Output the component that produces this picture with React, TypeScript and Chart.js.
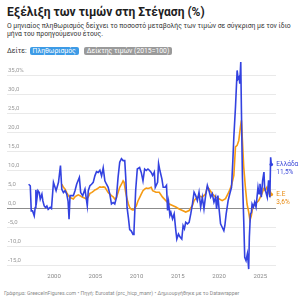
import React, { useEffect, useRef } from "react";
import { Chart, registerables } from "chart.js";
Chart.register(...registerables);

// Greece – monthly housing inflation (%)
const grYears = [
  1996.92, 1997.12, 1997.24, 1997.4, 1997.6, 1997.72, 1997.8, 1997.92, 1998.05, 1998.21, 1998.33, 1998.53,
  1998.65, 1998.81, 1998.97, 1999.13, 1999.29, 1999.53, 1999.69, 1999.93, 2000.25, 2000.54, 2000.78, 2000.94,
  2001.14, 2001.34, 2001.54, 2001.7, 2001.82, 2001.94, 2002.34, 2002.54, 2002.74, 2003.07, 2003.23, 2003.47,
  2003.75, 2004.03, 2004.15, 2004.35, 2004.55, 2004.75, 2004.95, 2005.15, 2005.35, 2005.56, 2005.76, 2005.96,
  2006.16, 2006.36, 2006.56, 2006.76, 2006.96, 2007.16, 2007.36, 2007.56, 2007.76, 2007.96, 2008.17, 2008.37,
  2008.57, 2008.69, 2008.85, 2009.01, 2009.17, 2009.37, 2009.57, 2009.69, 2009.89, 2010.09, 2010.37, 2010.57,
  2010.78, 2010.98, 2011.18, 2011.38, 2011.58, 2011.78, 2011.95, 2012.15, 2012.27, 2012.55, 2012.67, 2012.83,
  2013.07, 2013.23, 2013.47, 2013.63, 2013.76, 2013.88, 2014.04, 2014.16, 2014.36, 2014.56, 2014.76, 2014.88,
  2015.08, 2015.28, 2015.48, 2015.64, 2015.8, 2015.96, 2016.17, 2016.37, 2016.57, 2016.77, 2016.97, 2017.17,
  2017.37, 2017.57, 2017.77, 2017.97, 2018.17, 2018.37, 2018.58, 2018.78, 2018.98, 2019.18, 2019.38, 2019.58,
  2019.7, 2019.86, 2019.98, 2020.18, 2020.38, 2020.58, 2020.7, 2020.86, 2021.1, 2021.3, 2021.51, 2021.67,
  2021.79, 2021.99, 2022.19, 2022.31, 2022.43, 2022.51, 2022.63, 2022.71, 2022.83, 2022.99, 2023.11, 2023.27,
  2023.43, 2023.51, 2023.59, 2023.67, 2023.8, 2023.92, 2024.0, 2024.16, 2024.32, 2024.48, 2024.6, 2024.72,
  2024.84, 2024.96, 2025.12, 2025.28, 2025.44, 2025.52, 2025.68, 2025.84, 2026.0, 2026.16, 2026.25, 2026.33,
];
const grValues = [
  6.3, 5.9, -0.7, -0.7, -2.0, 0.2, 4.8, 2.4, 4.6, 4.1, 2.4, 3.7,
  1.9, 0.6, 0.2, 0.6, -0.3, 0.2, -0.1, 6.8, 4.6, 6.8, 11.2, 5.0,
  4.1, 4.6, 3.7, 1.9, -2.9, 3.3, 3.3, 4.6, 6.3, 8.1, 4.1, 3.3,
  5.0, 0.6, 4.6, 5.9, 6.3, 6.8, 8.5, 9.6, 9.4, 10.0, 8.5, 10.6,
  7.2, 6.3, 5.5, 3.7, 1.1, 1.5, 1.1, 2.8, 8.1, 12.1, 13.0, 12.5,
  12.5, 8.1, 0.2, -2.5, -5.6, -6.0, -6.9, -6.0, 4.6, 10.3, 10.7, 9.4,
  7.2, 10.3, 9.9, 10.3, 9.9, 9.4, 8.6, 9.5, 5.5, 6.8, 11.7, 9.9,
  7.7, 5.5, 5.5, 6.0, -0.6, 1.6, -1.9, -1.1, -2.8, -1.5, -5.9, -8.1,
  -6.8, -7.6, -8.1, -4.6, -5.4, -3.7, -4.1, -3.7, -1.5, 1.1, 4.2, 3.3,
  2.0, 4.2, 0.3, 2.9, -0.2, 3.3, 6.0, 4.6, 2.9, 3.8, 1.6, 2.9,
  -0.2, 3.3, 0.3, -4.1, -5.0, -5.9, -4.6, -1.5, 2.0, 3.8, 5.5, 12.5,
  18.7, 26.6, 36.2, 34.0, 34.5, 32.7, 38.4, 25.7, 8.2, -3.2, -12.9, -13.8,
  -12.0, -13.8, -16.0, -7.6, -1.5, -1.1, 1.1, 0.3, 1.6, 0.3, 2.9, 5.5,
  3.8, 6.4, 2.9, 7.3, 9.5, 5.5, 4.2, 2.9, 7.3, 2.9, 13.4, 11.5,
];

// EU – monthly housing inflation (%)
const euYears = [
  2000.94, 2001.14, 2001.34, 2001.54, 2001.74, 2001.94, 2002.14, 2002.34, 2002.54, 2002.74, 2002.94, 2003.15,
  2003.35, 2003.55, 2003.75, 2003.95, 2004.15, 2004.35, 2004.55, 2004.75, 2004.95, 2005.15, 2005.35, 2005.56,
  2005.76, 2005.96, 2006.16, 2006.36, 2006.56, 2006.76, 2006.96, 2007.16, 2007.36, 2007.56, 2007.76, 2007.96,
  2008.17, 2008.37, 2008.49, 2008.69, 2008.85, 2009.01, 2009.17, 2009.37, 2009.57, 2009.77, 2009.97, 2010.17,
  2010.37, 2010.57, 2010.78, 2010.98, 2011.18, 2011.38, 2011.58, 2011.78, 2011.95, 2012.35, 2012.75, 2013.15,
  2013.55, 2013.96, 2014.36, 2014.76, 2015.16, 2015.56, 2015.96, 2016.37, 2016.77, 2016.97, 2017.17, 2017.57,
  2017.97, 2018.37, 2018.58, 2018.78, 2019.18, 2019.58, 2019.98, 2020.38, 2020.78, 2021.18, 2021.51, 2021.79,
  2021.99, 2022.19, 2022.39, 2022.59, 2022.71, 2022.83, 2022.99, 2023.19, 2023.39, 2023.59, 2023.75, 2023.92,
  2024.08, 2024.4, 2024.8, 2025.0, 2025.2, 2025.4, 2025.6, 2025.8, 2026.0, 2026.16, 2026.24, 2026.33,
];
const euValues = [
  6.3, 5.5, 5.0, 4.1, 3.3, 2.8, 2.6, 2.4, 3.0, 3.3, 3.5, 3.3,
  3.0, 2.8, 2.6, 2.4, 3.0, 3.9, 4.1, 4.4, 4.8, 5.0, 5.3, 5.6,
  5.5, 5.6, 5.5, 4.8, 4.1, 3.7, 3.3, 3.0, 2.4, 2.8, 4.1, 5.5,
  6.3, 7.2, 6.8, 4.1, 2.4, 1.1, 0.2, -0.3, -0.5, 0.0, 0.6, 1.9,
  2.8, 3.7, 4.6, 5.0, 5.3, 5.2, 5.3, 5.5, 4.6, 4.2, 4.2, 2.9,
  2.0, 1.1, 0.7, 0.3, -0.2, -0.6, -1.0, -0.6, 0.7, 2.0, 2.5, 3.3,
  2.9, 3.8, 5.5, 5.1, 3.8, 2.9, 2.5, 2.0, 2.5, 4.2, 6.0, 8.6,
  16.1, 16.5, 17.8, 21.3, 23.1, 17.8, 10.8, 5.5, 1.1, -1.0, -3.2, -1.9,
  0.3, 1.1, 2.0, 2.9, 3.8, 5.1, 4.6, 5.5, 4.2, 3.3, 4.2, 3.6,
];

const seriesNames = ["Ελλάδα", "Ε.Ε"];
const lineColors = ["#3342e0", "#f59a12"];
const labelColors = ["#3d4ad8", "#e88a10"];
const xTickYears = [2000, 2005, 2010, 2015, 2020, 2025];
const yTickValues = [-15, -10, -5, 0, 5, 10, 15, 20, 25, 30, 35];

const fmt = (v: number) => v.toFixed(1).replace(".", ",");

export default function App() {
  const ref = useRef<HTMLCanvasElement | null>(null);

  useEffect(() => {
    if (!ref.current) return;
    const endLabels = {
      id: "endLabels",
      afterDatasetsDraw(chart: any) {
        const ctx = chart.ctx;
        chart.data.datasets.forEach((ds: any, i: number) => {
          const meta = chart.getDatasetMeta(i);
          const pt = meta.data[meta.data.length - 1];
          const v = ds.data[ds.data.length - 1].y;
          ctx.save();
          ctx.font = "6.5px Roboto";
          ctx.fillStyle = labelColors[i];
          ctx.textAlign = "left";
          ctx.textBaseline = "middle";
          ctx.fillText(seriesNames[i], pt.x + 5, pt.y);
          ctx.fillText(fmt(v) + "%", pt.x + 5, pt.y + 7.5);
          ctx.restore();
        });
      },
    };

    const mk = (xs: number[], ys: number[]) => xs.map((x, i) => ({ x, y: ys[i] }));
    const lastDot = (n: number) => (c: any) => (c.dataIndex === n - 1 ? 1.8 : 0);

    const chart = new Chart(ref.current, {
      type: "line",
      data: {
        datasets: [
          {
            label: seriesNames[0],
            data: mk(grYears, grValues),
            borderColor: lineColors[0],
            backgroundColor: lineColors[0],
            borderWidth: 1.6,
            pointRadius: lastDot(grYears.length),
            pointBorderWidth: 0,
            tension: 0,
            clip: false,
            order: 0,
          },
          {
            label: seriesNames[1],
            data: mk(euYears, euValues),
            borderColor: lineColors[1],
            backgroundColor: lineColors[1],
            borderWidth: 1.6,
            pointRadius: lastDot(euYears.length),
            pointBorderWidth: 0,
            tension: 0,
            clip: false,
            order: 1,
          },
        ],
      },
      options: {
        animation: false,
        responsive: false,
        devicePixelRatio: 1,
        layout: { padding: { left: 5, right: 24, top: 13, bottom: 1.5 } },
        plugins: { legend: { display: false }, tooltip: { enabled: false } },
        scales: {
          x: {
            type: "linear",
            min: 1994.3,
            max: 2026.9,
            grid: { display: false, drawTicks: false },
            border: { display: false },
            afterBuildTicks: (scale: any) => {
              scale.ticks = xTickYears.map((v) => ({ value: v }));
            },
            ticks: {
              font: { family: "Roboto", size: 6 },
              color: "#8a8a8a",
              padding: 8,
              maxRotation: 0,
              autoSkip: false,
              callback: (v: any) => String(v),
            },
          },
          y: {
            min: -15,
            max: 35,
            afterBuildTicks: (scale: any) => {
              scale.ticks = yTickValues.map((v) => ({ value: v }));
            },
            grid: {
              drawTicks: false,
              color: (c: any) => (c.tick && c.tick.value === 0 ? "#8c8c8c" : "#e9e9e9"),
              lineWidth: 1,
            },
            border: { display: false },
            ticks: {
              mirror: true,
              padding: 1,
              labelOffset: -5,
              font: { family: "Roboto", size: 6 },
              color: "#9a9a9a",
              callback: (v: any) => (v === 35 ? fmt(v) + "%" : fmt(v)),
            },
          },
        },
      },
      plugins: [endLabels],
    } as any);
    return () => chart.destroy();
  }, []);

  return (
    <div
      style={{
        position: "fixed",
        left: 0,
        top: 0,
        width: 300,
        height: 300,
        background: "#fff",
        fontFamily: "Roboto, sans-serif",
        overflow: "hidden",
      }}
    >
      <div
        style={{
          position: "absolute",
          left: 7,
          top: 4,
          fontSize: 12,
          lineHeight: "16px",
          fontWeight: 700,
          color: "#1d1d1d",
          whiteSpace: "nowrap",
        }}
      >
        Εξέλιξη των τιμών στη Στέγαση (%)
      </div>
      <div
        style={{
          position: "absolute",
          left: 7,
          top: 22,
          fontSize: 6.8,
          lineHeight: "8px",
          color: "#333",
          whiteSpace: "nowrap",
        }}
      >
        Ο μηνιαίος πληθωρισμός δείχνει το ποσοστό μεταβολής των τιμών σε σύγκριση με τον ίδιο
        <br />
        μήνα του προηγούμενου έτους.
      </div>
      <div
        style={{
          position: "absolute",
          left: 7,
          top: 46.5,
          height: 8.5,
          display: "flex",
          alignItems: "center",
          fontSize: 6.8,
          color: "#333",
          whiteSpace: "nowrap",
        }}
      >
        <span style={{ marginRight: 3 }}>Δείτε:</span>
        <span
          style={{
            background: "#3d9be6",
            color: "#fff",
            borderRadius: 2,
            padding: "0 3px",
            height: 8.5,
            lineHeight: "8.5px",
            marginRight: 5,
          }}
        >
          Πληθωρισμός
        </span>
        <span
          style={{
            background: "#9a9a9a",
            color: "#fff",
            borderRadius: 2,
            padding: "0 3px",
            height: 8.5,
            lineHeight: "8.5px",
          }}
        >
          Δείκτης τιμών (2015=100)
        </span>
      </div>
      <canvas
        ref={ref}
        width={300}
        height={228}
        style={{ position: "absolute", left: 0, top: 62, width: 300, height: 228 }}
      />
      <div
        style={{
          position: "absolute",
          left: 4,
          top: 289.5,
          fontSize: 5.2,
          lineHeight: "6px",
          color: "#8a8a8a",
          whiteSpace: "nowrap",
        }}
      >
        Γράφημα: GreeceInFigures.com • Πηγή: Eurostat (prc_hicp_manr) • Δημιουργήθηκε με το Datawrapper
      </div>
    </div>
  );
}
